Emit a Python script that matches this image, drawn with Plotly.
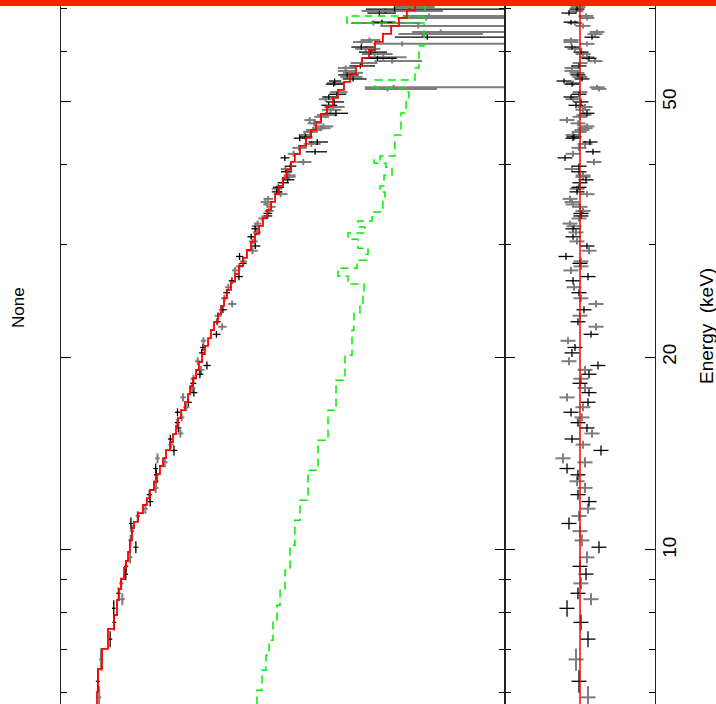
import numpy as np
import plotly.graph_objects as go

# ---------------- data ----------------
# model (red step): energy bin edges (keV) and model rate per bin
model_edges = [5.751, 6.005, 6.523, 7.008, 7.530, 7.918, 8.356, 8.693, 9.011, 9.374, 9.612, 9.928,
               10.366, 10.82, 11.06, 11.42, 11.755, 12.05,
               12.405, 12.766, 13.138, 13.521, 13.914, 14.32, 14.737, 15.166, 15.61, 16.06,
               16.53, 17.01, 17.51, 18.02, 18.55, 19.09, 19.64, 20.22, 20.81, 21.41,
               22.04, 22.68, 23.34, 24.03, 24.73, 25.45, 26.19, 26.96, 27.74, 28.55,
               29.38, 30.24, 31.12, 32.03, 32.96, 33.92, 34.91, 35.93, 36.98, 38.05,
               39.16, 40.31, 41.48, 42.69, 43.94, 45.21, 46.53, 47.89, 49.28, 50.72,
               52.20, 53.72, 55.29, 56.90, 58.56, 60.26, 62.02, 63.83, 65.69, 67.61,
               69.57, 71.60, 73.69]
model_rate = [1.380, 1.349, 1.230, 1.072, 0.933, 0.871, 0.832, 0.794, 0.741, 0.708, 0.676, 0.646,
              0.617, 0.589, 0.537, 0.479, 0.437,
              0.407, 0.372, 0.347, 0.324, 0.302, 0.282, 0.257, 0.240, 0.224, 0.214,
              0.1995, 0.182, 0.170, 0.162, 0.151, 0.141, 0.132, 0.123, 0.115, 0.107,
              0.100, 0.0933, 0.0851, 0.0794, 0.0741, 0.0692, 0.0631, 0.0575, 0.0525, 0.0479,
              0.0437, 0.0398, 0.0363, 0.0331, 0.0302, 0.0275, 0.0251, 0.0229, 0.0209, 0.0191,
              0.0174, 0.0158, 0.0145, 0.0129, 0.0112, 0.0100, 0.00891, 0.00794, 0.00692, 0.00603,
              0.00537, 0.00468, 0.00407, 0.00355, 0.00309, 0.00263, 0.00229, 0.00191, 0.00158, 0.00132,
              0.00110, 0.000912, 0.000776]

# background (green dashed step)
bg_edges = [5.74, 6.04, 6.49, 6.85, 7.23, 7.77, 8.20, 8.65, 9.30, 10.17, 11.13, 11.96, 13.32,
            14.83, 16.52, 18.40, 20.13, 22.02, 23.41, 24.27, 25.15, 25.99, 26.74, 27.52, 28.32,
            28.93, 29.57, 30.54, 31.22, 31.90, 32.61, 33.66, 35.14, 36.17, 36.96, 38.44, 39.56,
            40.13, 40.57, 41.16, 44.39, 48.04, 50.34, 51.80, 52.56, 54.09, 56.47, 61.13, 66.38,
            68.08, 72.11]
bg_rate = [0.0347, 0.0309, 0.0282, 0.0263, 0.0240, 0.0219, 0.0204, 0.0182, 0.0162, 0.0145,
           0.0129, 0.0107, 0.00851, 0.00676, 0.00562, 0.00457, 0.00389, 0.00372, 0.00324, 0.00302,
           0.00295, 0.00427, 0.00537, 0.00347, 0.00282, 0.00269, 0.00339, 0.00427, 0.00288, 0.00339,
           0.00245, 0.00191, 0.00182, 0.00204, 0.00186, 0.00155, 0.00178, 0.00234, 0.00204, 0.00145,
           0.00126, 0.00112, 0.00105, 0.00107, 0.00229, 0.000912, 0.000832, 0.000741, 0.00437, 0.000724]

# data points (two detectors: B = black, G = grey)
e_center = [70.3, 69.8, 69.3, 68.8, 68.1, 67.6, 66.6, 66.4, 65.7, 64.3,
            63.8, 63.1, 62.45, 62.0, 61.6, 60.9, 60.5, 59.8, 59.4, 58.7,
            58.5, 57.9, 57.5, 56.9, 56.5, 55.9, 55.5, 55.1, 54.7, 54.3,
            53.9, 53.5, 53.3, 52.7, 52.4, 51.8, 51.4, 50.9, 50.5, 50.0,
            49.4, 49.1, 48.6, 48.0, 47.7, 47.4, 46.85, 46.3, 45.8, 45.5,
            45.2, 44.9, 44.4, 44.1, 43.9, 43.3, 43.0, 42.4, 41.8, 41.5,
            40.9, 40.3, 39.7, 39.3, 38.9, 38.4, 38.2, 37.8, 37.4, 36.8,
            36.6, 36.2, 35.9, 35.3, 34.9, 34.6, 34.3, 33.8, 33.5, 33.2,
            32.9, 32.3, 32.0, 31.7, 31.3, 30.8, 30.3, 29.8, 29.3, 28.7,
            28.2, 28.0, 27.7, 27.3, 26.7, 26.3, 25.7, 25.2, 24.7, 24.2,
            23.7, 23.2, 22.7, 22.3, 21.7, 21.2, 20.7, 20.3, 19.7, 19.4,
            19.1, 18.8, 18.5, 18.2, 17.9, 17.6, 17.3, 17.0, 16.7, 16.4,
            16.1, 15.8, 15.5, 15.2, 14.9, 14.6, 14.3, 13.9, 13.7, 13.4,
            13.1, 12.8, 12.5, 12.2, 11.9, 11.6, 11.3, 11.0, 10.7, 10.35,
            10.1, 9.74, 9.43, 9.17, 8.87, 8.56, 8.38, 8.11, 7.71, 7.26,
            6.75, 6.24, 5.89]
e_half = [0.63, 0.63, 0.62, 0.62, 0.61, 0.61, 0.60, 0.60, 0.59, 0.58,
          0.57, 0.57, 0.56, 0.56, 0.55, 0.55, 0.54, 0.54, 0.53, 0.53,
          0.53, 0.52, 0.52, 0.51, 0.51, 0.50, 0.50, 0.50, 0.49, 0.49,
          0.49, 0.48, 0.48, 0.47, 0.47, 0.47, 0.46, 0.46, 0.45, 0.54,
          0.53, 0.53, 0.52, 0.52, 0.52, 0.51, 0.51, 0.50, 0.49, 0.49,
          0.49, 0.48, 0.48, 0.48, 0.47, 0.47, 0.46, 0.46, 0.45, 0.45,
          0.44, 0.44, 0.43, 0.42, 0.42, 0.41, 0.41, 0.41, 0.40, 0.40,
          0.40, 0.39, 0.39, 0.38, 0.38, 0.37, 0.37, 0.37, 0.36, 0.36,
          0.36, 0.35, 0.35, 0.34, 0.34, 0.33, 0.33, 0.32, 0.37, 0.36,
          0.36, 0.35, 0.35, 0.34, 0.34, 0.33, 0.32, 0.32, 0.31, 0.30,
          0.30, 0.29, 0.29, 0.28, 0.27, 0.27, 0.26, 0.29, 0.28, 0.28,
          0.28, 0.27, 0.27, 0.26, 0.26, 0.25, 0.25, 0.24, 0.24, 0.24,
          0.23, 0.23, 0.22, 0.22, 0.21, 0.21, 0.26, 0.25, 0.25, 0.24,
          0.24, 0.23, 0.23, 0.22, 0.21, 0.21, 0.20, 0.24, 0.23, 0.22,
          0.22, 0.21, 0.20, 0.20, 0.19, 0.18, 0.18, 0.24, 0.22, 0.21,
          0.27, 0.25, 0.24]
delchi = [0.27, 0.4, 0.53, 1.47, -0.8, -0.93, 1.2, 0.67, -0.4, -2.27,
          -2.0, -1.6, 1.2, 1.2, -0.93, 1.07, 0.67, -0.13, -0.4, -0.93,
          -1.2, -2.0, 0.0, 0.13, 1.07, 1.07, 0.4, 0.27, 0.0, -0.27,
          2.13, 0.93, 1.07, -2.27, -2.53, 0.0, 0.13, 1.2, 0.93, -0.13,
          0.53, -0.67, -0.4, -0.93, -0.53, 0.0, 1.73, 0.27, -0.93, -0.67,
          -0.27, 0.13, 0.93, 0.8, 0.93, -1.33, -0.67, 0.13, -1.73, 0.93,
          2.0, -1.87, 0.13, 1.07, 0.13, -0.4, -0.4, -0.8, 0.0, 0.13,
          0.4, 0.4, -0.93, 1.33, 1.07, 0.93, 0.0, -0.4, -0.13, -0.13,
          0.13, 1.33, 0.8, 0.93, 0.53, 0.93, 0.4, -0.93, -1.2, 1.87,
          -0.13, 0.0, -0.13, 1.2, -1.07, 0.93, 0.8, 0.13, -0.13, -2.13,
          -0.53, 0.0, 0.27, -2.13, -1.47, 1.6, 0.67, 1.07, 1.47, -2.4,
          -0.67, -1.2, -0.13, 0.0, -0.67, -1.2, 1.73, -1.07, -0.4, 1.2,
          -0.27, 0.27, -0.93, -1.6, 1.07, -0.4, -2.8, 2.27, -0.67, 1.73,
          0.27, 0.4, -0.67, 0.27, -1.2, -1.07, 0.13, 1.47, 0.0, -0.27,
          -2.53, -0.93, 0.0, -0.8, -0.13, 0.27, -1.47, 1.73, -0.13, -1.07,
          0.53, 0.13, -1.07]
rel_err = [0.5, 1.5, 1.2, 0.6, 0.5, 0.5, 0.4, 1.2, 0.9, 0.3,
           0.3, 0.4, 0.3, 0.3, 0.5, 0.35, 0.35, 0.3, 0.3, 0.3,
           0.25, 0.25, 0.3, 0.3, 0.25, 0.25, 0.25, 0.25, 0.25, 0.25,
           0.2, 0.25, 0.25, 0.3, 0.25, 0.2, 0.2, 0.2, 0.2, 0.2,
           0.2, 0.2, 0.2, 0.2, 0.2, 0.17, 0.17, 0.17, 0.17, 0.17,
           0.17, 0.17, 0.17, 0.17, 0.17, 0.17, 0.17, 0.17, 0.17, 0.17,
           0.13, 0.13, 0.13, 0.13, 0.13, 0.13, 0.13, 0.13, 0.13, 0.13,
           0.13, 0.13, 0.13, 0.13, 0.13, 0.1, 0.1, 0.1, 0.1, 0.1,
           0.1, 0.1, 0.1, 0.1, 0.1, 0.1, 0.1, 0.1, 0.1, 0.1,
           0.08, 0.08, 0.08, 0.08, 0.08, 0.08, 0.08, 0.08, 0.08, 0.08,
           0.08, 0.08, 0.08, 0.08, 0.08, 0.07, 0.07, 0.07, 0.07, 0.07,
           0.07, 0.07, 0.07, 0.07, 0.07, 0.07, 0.07, 0.07, 0.07, 0.07,
           0.06, 0.06, 0.06, 0.06, 0.06, 0.06, 0.06, 0.06, 0.06, 0.06,
           0.06, 0.06, 0.06, 0.06, 0.06, 0.05, 0.05, 0.05, 0.05, 0.05,
           0.05, 0.05, 0.05, 0.05, 0.05, 0.05, 0.05, 0.045, 0.045, 0.045,
           0.045, 0.045, 0.045]
group = ("GBGBGGBGGG" "GBGGGBGBGG" "BGGBGGGBGB" "BGBGGGBBGB" "BGGBGGGGGG"
         "GGGBBBGGBG" "BGBGBGGBBB" "GBGGGGGGBB" "GGGBGBGBGB" "GBGGBBGBGG"
         "BGBGBGBBGB" "GBGBGBGBGB" "GBBGBGBGGB" "BGGBBGGBGG" "BGBBGBGBBB" "GBG")

tick_vals = [10, 20, 50]
tick_text = ["10", "20", "50"]
minor_vals = [6, 7, 8, 9, 30, 40, 60, 70]

# ---------------- build ----------------
W, H = 716, 704
E = np.array(e_center)
EH = np.array(e_half)
D = np.array(delchi)
F = np.array(rel_err)
medges = np.array(model_edges)
mrate = np.array(model_rate)
idx = np.clip(np.searchsorted(medges, E, side="right") - 1, 0, len(mrate) - 1)
M = mrate[idx]
R = M * (1.0 + D * F)
SIG = F * M


def steps(edges, vals):
    xs, ys = [], []
    for i, v in enumerate(vals):
        xs += [v, v]
        ys += [edges[i], edges[i + 1]]
    return xs, ys


def crosses(xc, yc, xlo, xhi, ylo, yhi):
    xs, ys = [], []
    for a, b, c, d, e, f in zip(xc, yc, xlo, xhi, ylo, yhi):
        xs += [c, d, None, a, a, None]
        ys += [b, b, None, e, f, None]
    return xs, ys


fig = go.Figure()

styles = {"G": dict(color="#7d7d7d", width=2.0), "B": dict(color="#000000", width=1.3)}
for g in ["G", "B"]:
    sel = np.array([c == g for c in group])
    lo = np.maximum(R[sel] - SIG[sel], 1e-6)
    hi = R[sel] + SIG[sel]
    xs, ys = crosses(R[sel], E[sel], lo, hi, E[sel] - EH[sel], E[sel] + EH[sel])
    fig.add_trace(go.Scatter(x=xs, y=ys, mode="lines", line=styles[g],
                             xaxis="x", yaxis="y", showlegend=False, hoverinfo="skip"))
    xs2, ys2 = crosses(D[sel], E[sel], D[sel] - 1, D[sel] + 1, E[sel] - EH[sel], E[sel] + EH[sel])
    fig.add_trace(go.Scatter(x=xs2, y=ys2, mode="lines", line=styles[g],
                             xaxis="x2", yaxis="y2", showlegend=False, hoverinfo="skip"))

bx, by = steps(bg_edges, bg_rate)
fig.add_trace(go.Scatter(x=bx, y=by, mode="lines",
                         line=dict(color="#00ee00", width=1.5, dash="8px,5px"),
                         xaxis="x", yaxis="y", showlegend=False, hoverinfo="skip"))

mx, my = steps(model_edges, model_rate)
fig.add_trace(go.Scatter(x=mx, y=my, mode="lines", line=dict(color="#ff0000", width=1.8),
                         xaxis="x", yaxis="y", showlegend=False, hoverinfo="skip"))

fig.add_trace(go.Scatter(x=[0, 0], y=[model_edges[0] * 0.9, model_edges[-1] * 1.1], mode="lines",
                         line=dict(color="#ff0000", width=1.5),
                         xaxis="x2", yaxis="y2", showlegend=False, hoverinfo="skip"))

ylog_range = [np.log10(5.751), np.log10(72.11)]
font_family = "Liberation Sans, Arial, sans-serif"

common_y = dict(type="log", range=ylog_range, domain=[0, 1], showgrid=False, zeroline=False,
                tickmode="array", tickvals=tick_vals, ticks="inside", ticklen=10,
                tickwidth=1.4, tickcolor="#000000", showline=True, linecolor="#222222",
                linewidth=1.2, mirror="ticks", automargin=False,
                minor=dict(tickmode="array", tickvals=minor_vals, ticks="inside", ticklen=6,
                           tickwidth=1.4, tickcolor="#000000"))

fig.update_layout(
    width=W, height=H, template="none",
    margin=dict(l=0, r=0, t=0, b=0, pad=0),
    paper_bgcolor="white", plot_bgcolor="white",
    font=dict(family=font_family, color="#000000"),
    xaxis=dict(domain=[61 / W, 505 / W], type="log", range=[0.5, -3.94], anchor="y",
               showline=False, showticklabels=False, ticks="", showgrid=False, zeroline=False,
               automargin=False),
    xaxis2=dict(domain=[505 / W, 655 / W], range=[10, -10], anchor="y2",
                showline=False, showticklabels=False, ticks="", showgrid=False, zeroline=False,
                automargin=False),
    yaxis=dict(anchor="x", showticklabels=False, **common_y),
    yaxis2=dict(anchor="x2", side="right", showticklabels=True, ticktext=tick_text,
                tickangle=-90, tickfont=dict(size=19, family=font_family),
                ticklabelstandoff=-3, **common_y),
    shapes=[dict(type="rect", xref="paper", yref="paper", x0=0, x1=1, y0=1 - 6 / H, y1=1,
                 fillcolor="#ff2200", line=dict(width=0), layer="above")],
    annotations=[
        dict(text="None", xref="paper", yref="paper", x=18 / W, y=1 - 308 / H,
             showarrow=False, textangle=-90, font=dict(size=17, family=font_family),
             xanchor="center", yanchor="middle"),
        dict(text="Energy  (keV)", xref="paper", yref="paper", x=706 / W, y=1 - 326 / H,
             showarrow=False, textangle=-90, font=dict(size=19, family=font_family),
             xanchor="center", yanchor="middle"),
    ],
)

fig.write_html("out.html")
